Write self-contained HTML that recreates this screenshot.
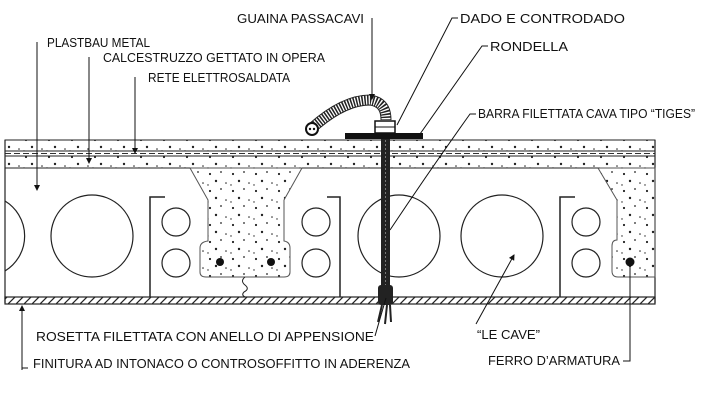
<!DOCTYPE html>
<html><head><meta charset="utf-8"><style>
html,body{margin:0;padding:0;background:#fff}
svg{display:block}
text{font-family:"Liberation Sans",sans-serif;font-size:12.5px;fill:#111}
</style></head><body>
<svg width="710" height="400" viewBox="0 0 710 400" xmlns="http://www.w3.org/2000/svg">
<defs>
<pattern id="dots" width="23" height="17" patternUnits="userSpaceOnUse">
<circle cx="3" cy="4" r="1.1" fill="#222"/><circle cx="14" cy="2" r="0.9" fill="#222"/>
<circle cx="9" cy="11" r="1.2" fill="#222"/><circle cx="19" cy="13" r="0.8" fill="#222"/>
<circle cx="1" cy="15" r="0.7" fill="#222"/>
</pattern>
<pattern id="hatch" width="8" height="8" patternUnits="userSpaceOnUse">
<path d="M0 8 L8 0" stroke="#222" stroke-width="1.2"/>
</pattern>
<marker id="ar" markerWidth="6" markerHeight="6" refX="5" refY="3" orient="auto"><path d="M0 0 L6 3 L0 6z" fill="#111"/></marker>
</defs>
<rect x="5" y="140" width="650" height="28" fill="url(#dots)" stroke="#222" stroke-width="1"/>
<rect x="5" y="151" width="650" height="5" fill="#fff" stroke="#222" stroke-width="1"/>
<line x1="5" y1="153.5" x2="655" y2="153.5" stroke="#333" stroke-width="1" stroke-dasharray="6 3"/>
<line x1="5" y1="140" x2="5" y2="303" stroke="#222" stroke-width="1.2"/>
<line x1="655" y1="140" x2="655" y2="303" stroke="#222" stroke-width="1.2"/>
<path d="M190 168 L302 168 L284 200 L284 241 Q290 242 290 248 L290 272 Q290 277 284 277 L206 277 Q200 277 200 272 L200 248 Q200 242 208 241 L208 200 Z" fill="url(#dots)" stroke="#555" stroke-width="1"/>
<circle cx="220" cy="262" r="4" fill="#111"/><circle cx="271" cy="262" r="4" fill="#111"/>
<path d="M245 277 q-5 4 0 8 q5 4 -1 7 q-3 3 1 5" fill="none" stroke="#222"/>
<path d="M598 168 L655 168 L655 277 L618 277 Q612 277 612 271 L612 246 Q612 240 617 240 L617 200 Z" fill="url(#dots)" stroke="#555" stroke-width="1"/>
<circle cx="630" cy="262" r="4.5" fill="#111"/>
<g fill="none" stroke="#222" stroke-width="1.2">
<path d="M5 201 A41 41 0 0 1 5 271"/>
<circle cx="92" cy="236" r="41"/>
<circle cx="399" cy="236" r="41"/>
<circle cx="502" cy="236" r="41"/>
<circle cx="176" cy="222" r="14"/><circle cx="176" cy="263" r="14"/>
<circle cx="316" cy="222" r="14"/><circle cx="316" cy="263" r="14"/>
<circle cx="586" cy="222" r="14"/><circle cx="586" cy="263" r="14"/>
<path d="M165 197 L150 197 L150 297" stroke-width="1.5"/>
<path d="M327 197 L340 197 L340 297" stroke-width="1.5"/>
<path d="M575 197 L560 197 L560 297" stroke-width="1.5"/>
<line x1="5" y1="168" x2="190" y2="168" stroke-width="1"/>
<line x1="302" y1="168" x2="598" y2="168" stroke-width="1"/>
</g>
<rect x="5" y="297" width="650" height="7" fill="url(#hatch)" stroke="#222" stroke-width="1.2"/>
<rect x="381" y="136" width="9" height="152" fill="#222"/>
<line x1="385.5" y1="140" x2="385.5" y2="288" stroke="#777" stroke-width="1" stroke-dasharray="2 2"/>
<rect x="378" y="285" width="15" height="20" rx="3" fill="#222"/>
<path d="M382 305 L378 322 M387 305 L385 324 M390 305 L391 322" stroke="#222" stroke-width="2"/>
<rect x="345" y="133" width="78" height="6" fill="#111"/>
<rect x="375" y="121" width="20" height="12" fill="#fff" stroke="#111" stroke-width="1.5"/>
<line x1="375" y1="127" x2="395" y2="127" stroke="#111"/>
<path d="M312 128 C330 112 350 100 370 100 C383 102 386 110 386 120" fill="none" stroke="#222" stroke-width="11"/>
<path d="M312 128 C330 112 350 100 370 100 C383 102 386 110 386 120" fill="none" stroke="#fff" stroke-width="9" stroke-dasharray="1.3 1.5"/>
<circle cx="312" cy="129" r="6" fill="#fff" stroke="#111" stroke-width="2"/>
<circle cx="310" cy="129" r="1.2" fill="#111"/><circle cx="314" cy="129" r="1.2" fill="#111"/>
<g fill="none" stroke="#111" stroke-width="1">
<path d="M372 18 L372 99" marker-end="url(#ar)"/>
<path d="M458 18 L452 18 L397 125"/>
<path d="M488 46 L482 46 L420 134"/>
<path d="M476 114 L470 114 Q430 170 390 230"/>
<path d="M37 42 L37 190" marker-end="url(#ar)"/>
<path d="M89 57 L89 163" marker-end="url(#ar)"/>
<path d="M135 77 L135 153" marker-end="url(#ar)"/>
<path d="M375 336 L386 298"/>
<path d="M22 370 L22 306" marker-end="url(#ar)"/>
<path d="M22 368 L28 368"/>
<path d="M476 324 L514 255" marker-end="url(#ar)"/>
<path d="M630 264 L630 361 L623 361"/>
</g>
<text x="237" y="23" textLength="127" lengthAdjust="spacingAndGlyphs">GUAINA PASSACAVI</text>
<text x="460" y="23" textLength="165" lengthAdjust="spacingAndGlyphs">DADO E CONTRODADO</text>
<text x="490" y="51" textLength="78" lengthAdjust="spacingAndGlyphs">RONDELLA</text>
<text x="478" y="118" textLength="217" lengthAdjust="spacingAndGlyphs">BARRA FILETTATA CAVA TIPO “TIGES”</text>
<text x="47" y="47" textLength="103" lengthAdjust="spacingAndGlyphs">PLASTBAU METAL</text>
<text x="103" y="62" textLength="222" lengthAdjust="spacingAndGlyphs">CALCESTRUZZO GETTATO IN OPERA</text>
<text x="148" y="82" textLength="142" lengthAdjust="spacingAndGlyphs">RETE ELETTROSALDATA</text>
<text x="36" y="341" textLength="338" lengthAdjust="spacingAndGlyphs">ROSETTA FILETTATA CON ANELLO DI APPENSIONE</text>
<text x="33" y="368" textLength="377" lengthAdjust="spacingAndGlyphs">FINITURA AD INTONACO O CONTROSOFFITTO IN ADERENZA</text>
<text x="477" y="339" textLength="63" lengthAdjust="spacingAndGlyphs">“LE CAVE”</text>
<text x="488" y="365" textLength="132" lengthAdjust="spacingAndGlyphs">FERRO D’ARMATURA</text>
</svg>
</body></html>
